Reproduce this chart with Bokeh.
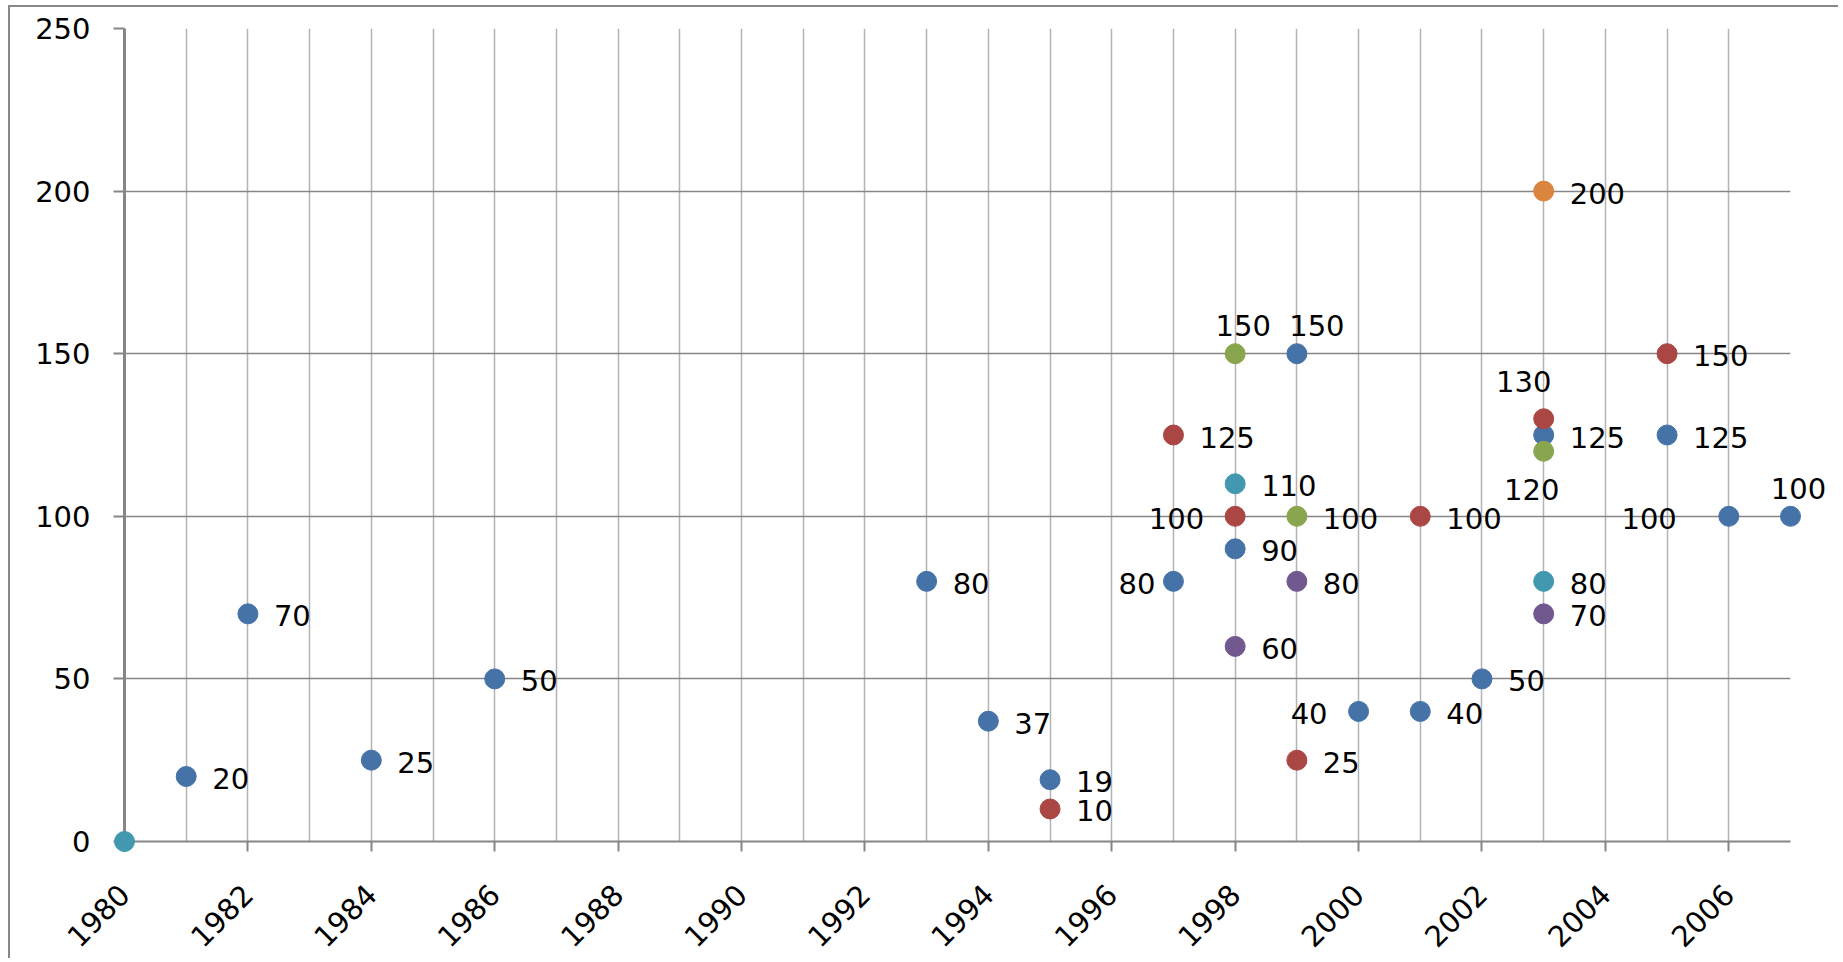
import math
from bokeh.plotting import figure
from bokeh.models import FixedTicker, ColumnDataSource
from bokeh.core.properties import value
from bokeh.embed import file_html
from bokeh.resources import INLINE

# ---------------- data ----------------
blue_years = [1981, 1982, 1984, 1986, 1993, 1994, 1995, 1997, 1998, 1999, 2000, 2001, 2002, 2003, 2005, 2006, 2007]
blue_values = [20, 70, 25, 50, 80, 37, 19, 80, 90, 150, 40, 40, 50, 125, 125, 100, 100]

red_years = [1995, 1997, 1998, 1999, 2001, 2003, 2005]
red_values = [10, 125, 100, 25, 100, 130, 150]

green_years = [1998, 1999, 2003]
green_values = [150, 100, 120]

purple_years = [1998, 1999, 2003]
purple_values = [60, 80, 70]

teal_years = [1980, 1998, 2003]
teal_values = [0, 110, 80]

orange_years = [2003]
orange_values = [200]

x_tick_years = [1980, 1982, 1984, 1986, 1988, 1990, 1992, 1994, 1996, 1998, 2000, 2002, 2004, 2006]
y_ticks = [0, 50, 100, 150, 200, 250]

# ---------------- label placement (style) ----------------
blue_label_pos = ["r", "r", "r", "r", "r", "r", "r", "l_near", "r", "t_b", "l", "r", "r", "r", "r", "l_far", "t"]
red_label_pos = ["r", "r", "l", "r", "r", "t_hi", "r"]
green_label_pos = ["t", "r", "b"]
purple_label_pos = ["r", "r", "r"]
teal_label_pos = [None, "r", "r"]
orange_label_pos = ["r"]

PLACEMENT = {
    "r": (26, 2, "left"),
    "l": (-31, 2, "right"),
    "l_near": (-18, 2, "right"),
    "l_far": (-52, 2, "right"),
    "t": (8, -28, "center"),
    "t_b": (20, -28, "center"),
    "t_hi": (-20, -37, "center"),
    "b": (-12, 38, "center"),
}

series = [
    (blue_years, blue_values, blue_label_pos, "#4572A7"),
    (red_years, red_values, red_label_pos, "#AA4643"),
    (green_years, green_values, green_label_pos, "#89A54E"),
    (purple_years, purple_values, purple_label_pos, "#71588F"),
    (teal_years, teal_values, teal_label_pos, "#4198AF"),
    (orange_years, orange_values, orange_label_pos, "#DB843D"),
]

FONT = "DejaVu Sans"
FS = "29px"

p = figure(
    width=1830, height=953,
    x_range=(1980, 2007), y_range=(0, 250),
    output_backend="svg", toolbar_location=None,
    min_border_left=114, min_border_top=21, min_border_right=50, min_border_bottom=119,
)
p.styles = {"border-left": "2px solid #888888", "border-top": "2px solid #888888",
            "margin-left": "8px", "margin-top": "5px"}
p.background_fill_color = "white"
p.border_fill_color = "white"
p.outline_line_color = None

# axes
p.xaxis.ticker = FixedTicker(ticks=x_tick_years)
p.yaxis.ticker = FixedTicker(ticks=y_ticks)
p.xaxis.major_label_orientation = math.pi / 4
for ax in (p.xaxis, p.yaxis):
    ax.axis_line_color = "#868686"
    ax.major_tick_line_color = "#868686"
    ax.major_tick_line_width = 2
    ax.major_tick_in = 0
    ax.minor_tick_line_color = None
    ax.major_label_text_font = FONT
    ax.major_label_text_font_size = FS
    ax.major_label_text_color = "black"
p.yaxis.axis_line_width = 3
p.xaxis.axis_line_width = 2
p.yaxis.major_tick_out = 11
p.xaxis.major_tick_out = 10
p.yaxis.major_label_standoff = 23
p.xaxis.major_label_standoff = 38

# grids
p.xgrid.ticker = FixedTicker(ticks=list(range(1980, 2008)))
p.xgrid.grid_line_color = "#b3b3b3"
p.xgrid.grid_line_width = 1.5
p.ygrid.grid_line_color = "#868686"
p.ygrid.grid_line_width = 1.5

for years, vals, pos, color in series:
    src = ColumnDataSource(dict(x=years, y=vals))
    p.scatter("x", "y", source=src, size=20, marker="circle",
              fill_color=color, line_color=color, level="overlay")

for years, vals, pos, color in series:
    for code_group in PLACEMENT:
        xs = [yr for yr, c in zip(years, pos) if c == code_group]
        ys = [v for v, c in zip(vals, pos) if c == code_group]
        if not xs:
            continue
        dx, dy, align = PLACEMENT[code_group]
        src = ColumnDataSource(dict(x=xs, y=ys, t=[str(v) for v in ys]))
        p.text("x", "y", text="t", source=src, x_offset=dx, y_offset=dy,
               text_align=align, text_baseline="middle",
               text_font=value(FONT), text_font_size=FS, text_color="black",
               level="overlay")

open("out.html", "w").write(file_html(p, INLINE))
